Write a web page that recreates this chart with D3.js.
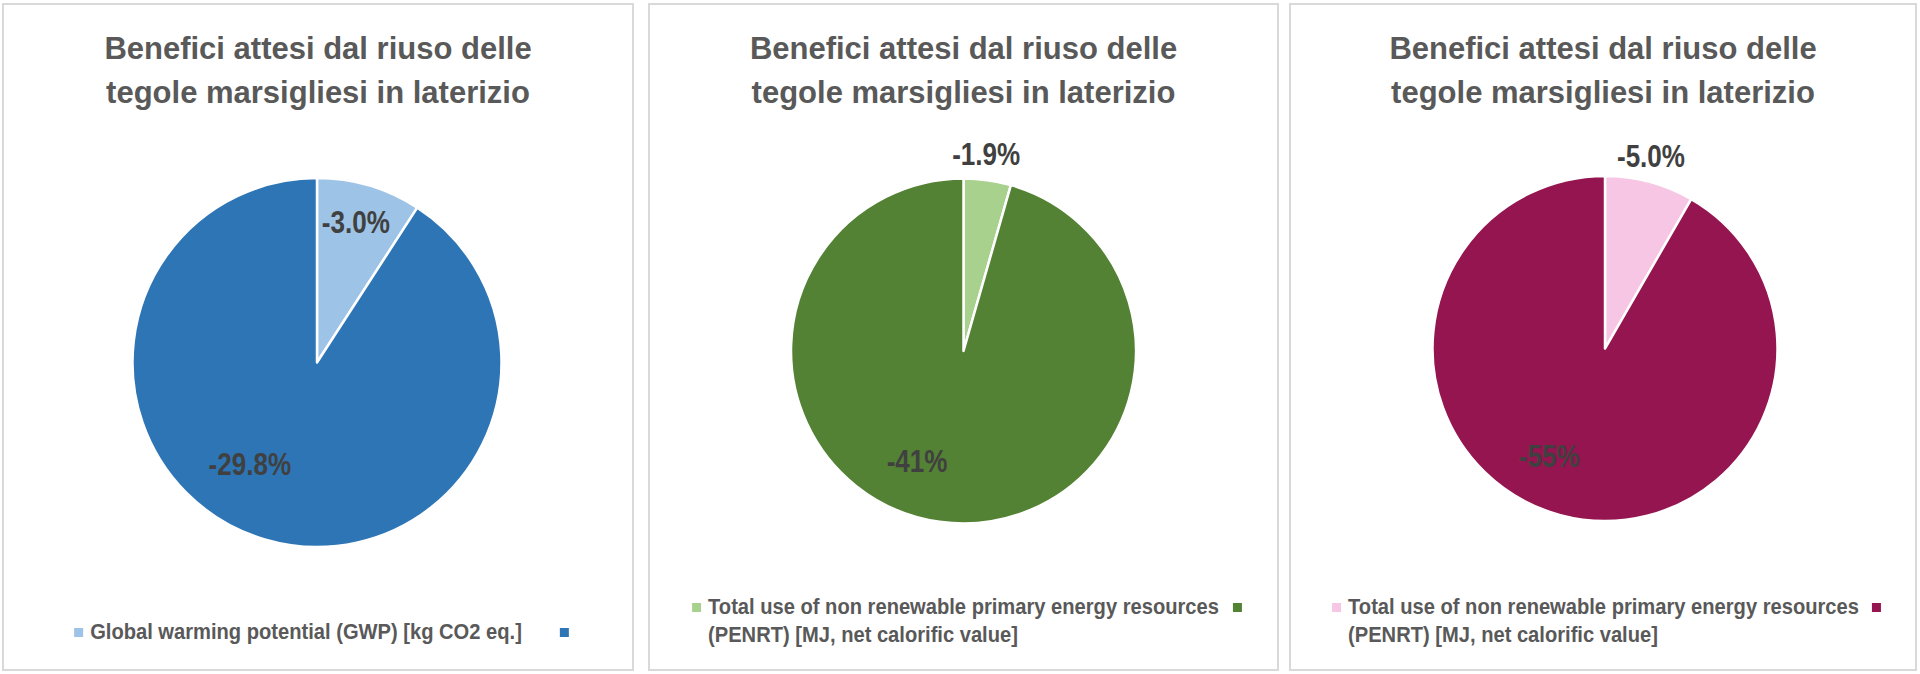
<!DOCTYPE html>
<html>
<head>
<meta charset="utf-8">
<script src="https://cdn.jsdelivr.net/npm/d3@7/dist/d3.min.js"></script>
<style>
  html, body { margin: 0; padding: 0; background: #ffffff; }
  svg { display: block; }
  text { font-family: "Liberation Sans", Arial, Helvetica, sans-serif; font-weight: bold; }
</style>
</head>
<body>
<svg id="chart" width="1920" height="674"></svg>
<script>
// ---------------- DATA ----------------
const titleLines = ["Benefici attesi dal riuso delle", "tegole marsigliesi in laterizio"];

const seriesNamesGWP = ["Global warming potential (GWP) [kg CO2 eq.]", ""];
const valuesGWP = [3.0, 29.8];
const labelsGWP = ["-3.0%", "-29.8%"];

const seriesNamesPENRT_A = ["Total use of non renewable primary energy resources (PENRT) [MJ, net calorific value]", ""];
const valuesPENRT_A = [1.9, 41];
const labelsPENRT_A = ["-1.9%", "-41%"];

const seriesNamesPENRT_B = ["Total use of non renewable primary energy resources (PENRT) [MJ, net calorific value]", ""];
const valuesPENRT_B = [5.0, 55];
const labelsPENRT_B = ["-5.0%", "-55%"];

const colorsGWP = ["#9DC3E6", "#2E75B6"];
const colorsPENRT_A = ["#A9D18E", "#548235"];
const colorsPENRT_B = ["#F7C6E4", "#94154F"];

// ---------------- LAYOUT ----------------
const panels = [
  { x: 3,    y: 4, w: 630, h: 666, cx: 317,   cy: 362.5, r: 184.5,
    small: { k: 0.79, shift: -1 }, big: { k: 0.66, shift: 17 }, legendGap: 38 },
  { x: 649,  y: 4, w: 629, h: 666, cx: 963.5, cy: 351,   r: 172.5,
    small: { k: 1.15, shift: -1.4 }, big: { k: 0.69, shift: 15 }, legendGap: 14 },
  { x: 1290, y: 4, w: 626, h: 666, cx: 1605,  cy: 348.5, r: 172.5,
    small: { k: 1.15, shift: -1.6 }, big: { k: 0.70, shift: 12.5 }, legendGap: 13 }
];
const charts = [
  { names: seriesNamesGWP, values: valuesGWP, labels: labelsGWP, colors: colorsGWP },
  { names: seriesNamesPENRT_A, values: valuesPENRT_A, labels: labelsPENRT_A, colors: colorsPENRT_A },
  { names: seriesNamesPENRT_B, values: valuesPENRT_B, labels: labelsPENRT_B, colors: colorsPENRT_B }
];

const TITLE_SIZE = 31, LABEL_SIZE = 31, LEGEND_SIZE = 22;
const LABEL_SQUEEZE = 0.84, LEGEND_SQUEEZE = 0.915;
const TITLE_COLOR = "#595959", LABEL_COLOR = "#404040", LEGEND_COLOR = "#595959";

const svg = d3.select("#chart");

function squeeze(sel, factor) {
  sel.each(function () {
    const len = this.getComputedTextLength();
    d3.select(this).attr("textLength", len * factor).attr("lengthAdjust", "spacingAndGlyphs");
  });
}

// measure helper
const measurer = svg.append("text").attr("font-size", LEGEND_SIZE).attr("visibility", "hidden");
function legendWidth(str) {
  measurer.text(str);
  return measurer.node().getComputedTextLength() * LEGEND_SQUEEZE;
}
function wrap(str, maxW) {
  const words = str.split(" ");
  const lines = [];
  let cur = "";
  words.forEach(w => {
    const t = cur ? cur + " " + w : w;
    if (legendWidth(t) > maxW && cur) { lines.push(cur); cur = w; }
    else cur = t;
  });
  if (cur) lines.push(cur);
  return lines;
}

panels.forEach((p, i) => {
  const c = charts[i];
  const g = svg.append("g");

  // panel frame
  g.append("rect")
    .attr("x", p.x).attr("y", p.y).attr("width", p.w).attr("height", p.h)
    .attr("fill", "#ffffff").attr("stroke", "#D9D9D9").attr("stroke-width", 2);

  // title
  const midX = p.x + p.w / 2;
  g.selectAll("text.title").data(titleLines).join("text")
    .attr("class", "title")
    .attr("x", midX)
    .attr("y", (d, j) => 59 + j * 44)
    .attr("text-anchor", "middle")
    .attr("font-size", TITLE_SIZE)
    .attr("fill", TITLE_COLOR)
    .text(d => d);

  // pie
  const pie = d3.pie().sort(null).value(d => d).startAngle(0).endAngle(2 * Math.PI);
  const arcs = pie(c.values);
  const arc = d3.arc().innerRadius(0).outerRadius(p.r);
  const color = d3.scaleOrdinal().domain(d3.range(c.values.length)).range(c.colors);

  const pg = g.append("g").attr("transform", `translate(${p.cx},${p.cy})`);
  pg.selectAll("path").data(arcs).join("path")
    .attr("d", arc)
    .attr("fill", (d, j) => color(j))
    .attr("stroke", "#ffffff")
    .attr("stroke-width", 2.5)
    .attr("stroke-linejoin", "round");

  // data labels
  const deg = Math.PI / 180;
  pg.selectAll("text.lbl").data(arcs).join("text")
    .attr("class", "lbl")
    .attr("transform", (d, j) => {
      const cfg = j === 0 ? p.small : p.big;
      const rr = cfg.k * p.r;
      const la = d3.arc().innerRadius(rr).outerRadius(rr);
      const cent = la.centroid({ startAngle: d.startAngle + cfg.shift * deg, endAngle: d.endAngle + cfg.shift * deg });
      return `translate(${cent[0]},${cent[1]})`;
    })
    .attr("dy", "0.36em")
    .attr("text-anchor", "middle")
    .attr("font-size", LABEL_SIZE)
    .attr("fill", LABEL_COLOR)
    .text((d, j) => c.labels[j])
    .call(squeeze, LABEL_SQUEEZE);

  // legend
  const lines = wrap(c.names[0], 530);
  const widths = lines.map(legendWidth);
  const textW = d3.max(widths);
  const SQ = 8, SQGAP = 8;
  const firstLineW = widths[0];
  const totalW = SQ + SQGAP + firstLineW + p.legendGap + SQ;
  const x0 = midX + 3 - totalW / 2;
  const base0 = lines.length === 1 ? 639 : 614;
  const lg = g.append("g");

  lg.append("rect")
    .attr("x", x0).attr("y", base0 - 6.5 - SQ / 2 - 0.5)
    .attr("width", SQ + 1).attr("height", SQ + 1)
    .attr("fill", color(0));

  lg.selectAll("text").data(lines).join("text")
    .attr("x", x0 + SQ + SQGAP)
    .attr("y", (d, j) => base0 + j * 28)
    .attr("font-size", LEGEND_SIZE)
    .attr("fill", LEGEND_COLOR)
    .text(d => d)
    .call(squeeze, LEGEND_SQUEEZE);

  lg.append("rect")
    .attr("x", x0 + SQ + SQGAP + firstLineW + p.legendGap).attr("y", base0 - 6.5 - SQ / 2 - 0.5)
    .attr("width", SQ + 1).attr("height", SQ + 1)
    .attr("fill", color(1));
});

measurer.remove();
</script>
</body>
</html>
